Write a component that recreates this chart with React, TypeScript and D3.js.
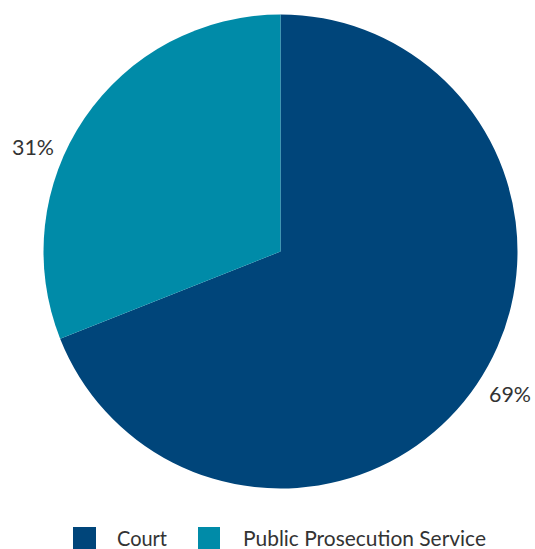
import React from "react";
import * as d3 from "d3";

const categories = ["Court", "Public Prosecution Service"];
const values = [69, 31];
const colors = ["#00457a", "#008ba8"];
const labels = ["69%", "31%"];

export default function App() {
  const width = 535, height = 549;
  const cx = 280.5, cy = 251.5, r = 237;
  const pie = d3.pie<number>().sort(null).value((d) => d);
  const arcs = pie(values);
  const arc = d3.arc<d3.PieArcDatum<number>>().innerRadius(0).outerRadius(r);
  const labelPos = [
    { x: 510, y: 402 },
    { x: 33, y: 155 },
  ];
  return (
    <svg width={width} height={height} style={{ position: "absolute", left: 0, top: 0, fontFamily: "Lato, 'Open Sans', sans-serif" }}>
      <rect width={width} height={height} fill="#fff" />
      <g transform={`translate(${cx},${cy})`}>
        {arcs.map((a, i) => (
          <path key={i} d={arc(a) || ""} fill={colors[i]} />
        ))}
      </g>
      {labels.map((l, i) => (
        <text key={i} x={labelPos[i].x} y={labelPos[i].y} textAnchor="middle" fontSize={21} fill="#333" textLength={42} lengthAdjust="spacingAndGlyphs">
          {l}
        </text>
      ))}
      <g>
        <rect x={73} y={527} width={23} height={22} fill={colors[0]} />
        <text x={117} y={546} fontSize={21} fill="#333" textLength={50} lengthAdjust="spacingAndGlyphs">{categories[0]}</text>
        <rect x={198} y={527} width={22} height={22} fill={colors[1]} />
        <text x={243} y={546} fontSize={21} fill="#333" textLength={243} lengthAdjust="spacingAndGlyphs">{categories[1]}</text>
      </g>
    </svg>
  );
}
